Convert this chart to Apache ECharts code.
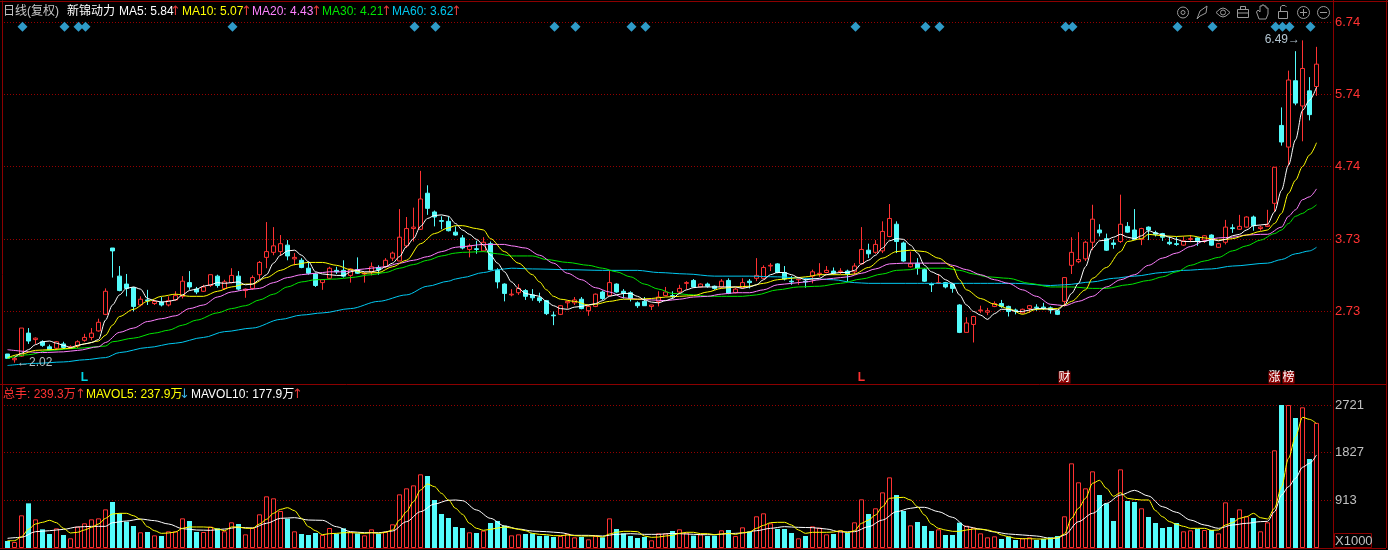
<!DOCTYPE html>
<html>
<head>
<meta charset="utf-8">
<style>html,body{margin:0;padding:0;background:#000}#c{width:1388px;height:550px}</style>
<script src="https://cdn.jsdelivr.net/npm/echarts@6/dist/echarts.min.js"></script>
</head>
<body>
<div id="c"></div>
<script>
// open, close, low, high for each trading day
const ohlc = [
[2.14,2.08,2.08,2.14],[2.06,2.08,2.02,2.09],[2.11,2.50,2.10,2.50],[2.43,2.32,2.28,2.50],[2.34,2.36,2.28,2.37],
[2.31,2.26,2.24,2.33],[2.24,2.20,2.19,2.27],[2.22,2.31,2.20,2.32],[2.28,2.23,2.21,2.31],[2.23,2.24,2.21,2.26],
[2.25,2.31,2.22,2.33],[2.33,2.37,2.31,2.42],[2.37,2.43,2.33,2.50],[2.46,2.58,2.45,2.63],[2.69,3.01,2.68,3.05],
[3.61,3.57,3.20,3.61],[3.22,3.02,3.01,3.36],[3.11,3.05,2.94,3.25],[3.06,2.80,2.73,3.07],[2.82,2.90,2.80,2.94],
[2.89,2.88,2.82,3.03],[2.84,2.87,2.82,2.89],[2.86,2.82,2.80,2.93],[2.82,2.88,2.80,2.94],[2.89,2.95,2.88,3.01],
[2.94,3.15,2.91,3.22],[3.13,3.07,3.03,3.29],[3.04,3.00,2.97,3.07],[3.01,3.07,3.00,3.10],[3.09,3.24,3.07,3.24],
[3.22,3.09,3.06,3.24],[3.05,3.14,3.03,3.17],[3.13,3.23,3.12,3.33],[3.22,3.04,3.02,3.29],[3.02,3.04,2.92,3.05],
[3.05,3.20,3.03,3.23],[3.24,3.41,3.18,3.43],[3.48,3.56,3.33,3.97],[3.55,3.64,3.51,3.90],[3.56,3.67,3.50,3.79],
[3.65,3.50,3.44,3.72],[3.46,3.48,3.37,3.54],[3.44,3.34,3.33,3.47],[3.33,3.26,3.24,3.42],[3.25,3.09,3.07,3.27],
[3.13,3.17,3.03,3.18],[3.19,3.33,3.18,3.35],[3.30,3.28,3.25,3.35],[3.30,3.22,3.20,3.44],[3.23,3.32,3.13,3.33],
[3.31,3.26,3.25,3.48],[3.25,3.26,3.13,3.28],[3.28,3.35,3.23,3.41],[3.34,3.31,3.24,3.37],[3.35,3.44,3.33,3.47],
[3.47,3.54,3.43,3.56],[3.43,3.76,3.43,4.15],[3.64,3.88,3.61,4.04],[3.88,3.90,3.70,4.17],[3.87,4.29,3.86,4.68],
[4.37,4.16,4.07,4.48],[4.11,4.04,3.91,4.13],[3.99,3.98,3.87,4.05],[3.98,3.85,3.84,4.05],[3.83,3.79,3.78,3.91],
[3.75,3.61,3.59,3.79],[3.59,3.64,3.48,3.67],[3.60,3.59,3.53,3.71],[3.57,3.69,3.56,3.76],[3.67,3.31,3.30,3.70],
[3.30,3.14,3.05,3.33],[3.11,2.98,2.87,3.12],[2.96,2.97,2.94,3.04],[2.99,3.05,2.96,3.11],[3.02,2.94,2.89,3.04],
[2.96,2.92,2.88,3.04],[2.92,2.88,2.85,2.99],[2.88,2.70,2.68,2.89],[2.68,2.67,2.54,2.73],[2.69,2.81,2.68,2.82],
[2.85,2.87,2.77,2.88],[2.85,2.89,2.82,2.93],[2.90,2.77,2.76,2.93],[2.74,2.80,2.67,2.82],[2.80,2.97,2.79,2.98],
[3.00,2.91,2.89,3.02],[2.95,3.13,2.94,3.30],[3.11,3.00,2.99,3.12],[3.01,2.98,2.91,3.04],[2.99,2.91,2.87,3.01],
[2.85,2.81,2.78,2.87],[2.87,2.81,2.81,2.93],[2.80,2.82,2.75,2.82],[2.87,2.93,2.80,3.01],[2.95,3.00,2.94,3.07],
[2.95,2.94,2.91,3.01],[3.00,3.05,2.98,3.10],[3.12,3.13,3.04,3.15],[3.16,3.07,3.06,3.18],[3.07,3.11,3.06,3.12],
[3.11,3.08,3.06,3.13],[3.08,3.05,3.03,3.09],[3.07,3.15,3.05,3.18],[3.16,2.98,2.97,3.19],[2.99,3.04,2.98,3.06],
[3.06,3.13,3.05,3.19],[3.15,3.13,3.05,3.18],[3.19,3.23,3.15,3.47],[3.19,3.34,3.18,3.37],[3.36,3.37,3.29,3.40],
[3.39,3.27,3.26,3.40],[3.27,3.18,3.16,3.36],[3.15,3.14,3.10,3.22],[3.17,3.18,3.10,3.21],[3.15,3.14,3.06,3.19],
[3.22,3.28,3.12,3.31],[3.25,3.26,3.21,3.40],[3.27,3.30,3.26,3.36],[3.29,3.26,3.24,3.34],[3.28,3.29,3.25,3.33],
[3.29,3.25,3.14,3.31],[3.28,3.36,3.24,3.40],[3.39,3.59,3.38,3.90],[3.58,3.53,3.47,3.67],[3.55,3.66,3.53,3.72],
[3.57,3.84,3.54,3.98],[3.77,4.02,3.76,4.22],[3.94,3.70,3.54,3.98],[3.68,3.43,3.42,3.70],[3.35,3.39,3.34,3.56],
[3.40,3.33,3.24,3.47],[3.31,3.15,3.14,3.33],[3.11,3.10,3.00,3.13],[3.12,3.13,3.11,3.25],[3.13,3.07,3.05,3.14],
[3.11,3.05,2.99,3.12],[2.82,2.44,2.43,2.83],[2.44,2.57,2.44,2.65],[2.55,2.66,2.30,2.67],[2.74,2.75,2.71,2.81],
[2.72,2.74,2.68,2.78],[2.80,2.84,2.79,2.87],[2.84,2.80,2.78,2.89],[2.80,2.73,2.66,2.81],[2.75,2.74,2.69,2.77],
[2.71,2.76,2.70,2.77],[2.77,2.81,2.71,2.82],[2.79,2.78,2.74,2.83],[2.79,2.77,2.75,2.85],[2.78,2.75,2.70,2.80],
[2.74,2.69,2.68,2.75],[2.87,3.20,2.80,3.20],[3.37,3.55,3.25,3.76],[3.42,3.45,3.40,3.83],[3.46,3.69,3.43,3.71],
[3.69,4.01,3.58,4.21],[3.86,3.82,3.77,3.94],[3.74,3.58,3.57,3.81],[3.68,3.66,3.60,3.73],[3.70,3.94,3.68,4.35],
[3.91,3.83,3.82,3.97],[3.86,3.73,3.72,4.15],[3.73,3.88,3.65,3.89],[3.90,3.86,3.72,3.91],[3.82,3.80,3.77,3.85],
[3.81,3.76,3.71,3.82],[3.69,3.67,3.65,3.77],[3.67,3.66,3.64,3.76],[3.65,3.71,3.64,3.77],[3.73,3.74,3.69,3.79],
[3.75,3.71,3.64,3.76],[3.72,3.78,3.68,3.79],[3.79,3.65,3.64,3.80],[3.62,3.67,3.61,3.68],[3.69,3.90,3.66,4.00],
[3.89,3.88,3.82,3.94],[3.87,3.91,3.86,4.07],[3.90,4.04,3.89,4.05],[4.04,3.92,3.85,4.06],[3.88,3.90,3.85,3.92],
[3.91,3.93,3.90,4.14],[4.23,4.73,4.11,4.73],[5.31,5.08,5.03,5.56],[5.01,5.94,4.76,6.07],[5.93,5.62,5.59,6.34],
[5.58,6.10,5.09,6.49],[5.79,5.46,5.38,5.98],[5.85,6.16,5.72,6.40]
];
// turnover, in thousands of lots
const volume = [
134,115,625,854,548,357,268,376,249,185,408,472,548,567,739,880,663,504,421,300,
306,242,229,319,319,567,516,306,306,408,376,319,491,459,261,389,644,988,950,708,
561,319,268,249,287,249,382,274,376,306,280,242,357,274,312,453,1026,1141,1198,1409,
1377,918,650,574,402,382,300,287,331,478,516,427,242,261,268,280,229,236,210,229,
274,204,210,166,229,204,567,363,280,229,191,210,147,280,280,325,357,293,236,261,
229,236,338,344,229,395,312,606,663,472,363,363,287,185,229,414,389,261,268,338,
293,491,931,650,759,1064,1351,1013,708,433,497,421,325,357,249,249,484,427,389,280,
204,223,172,217,153,185,204,153,172,204,229,606,1619,1256,1141,1466,1013,854,516,1504,
899,880,759,593,478,382,402,478,319,338,363,344,344,280,873,574,739,606,574,319,
491,1868,2734,2734,2486,2690,1702,2393
];
const ma5 = [
null,2.09,2.15,2.20,2.27,2.31,2.32,2.29,2.26,2.23,2.26,2.28,2.30,2.34,2.61,2.82,2.96,3.05,3.07,3.04,
2.91,2.88,2.86,2.87,2.89,2.96,3.02,3.04,3.08,3.10,3.13,3.12,3.13,3.14,3.10,3.11,3.17,3.24,3.40,3.51,
3.57,3.58,3.51,3.42,3.28,3.25,3.24,3.23,3.23,3.28,3.30,3.28,3.28,3.30,3.35,3.40,3.49,3.63,3.74,3.91,
4.02,4.06,4.07,4.05,3.95,3.86,3.80,3.73,3.65,3.51,3.40,3.28,3.14,3.05,2.98,2.96,2.94,2.87,2.81,2.77,
2.76,2.79,2.80,2.82,2.84,2.88,2.94,2.96,2.98,2.98,2.94,2.89,2.86,2.85,2.88,2.91,2.98,3.03,3.06,3.07,
3.07,3.07,3.07,3.07,3.07,3.05,3.07,3.10,3.17,3.24,3.27,3.27,3.24,3.20,3.17,3.18,3.19,3.24,3.26,3.27,
3.27,3.30,3.39,3.44,3.51,3.61,3.71,3.74,3.73,3.65,3.54,3.37,3.28,3.24,3.17,3.12,2.96,2.82,2.73,2.68,
2.62,2.70,2.76,2.76,2.73,2.73,2.75,2.77,2.77,2.76,2.75,2.82,2.98,3.12,3.35,3.61,3.71,3.72,3.76,3.80,
3.76,3.74,3.78,3.85,3.82,3.79,3.76,3.73,3.70,3.70,3.70,3.70,3.73,3.71,3.73,3.78,3.80,3.86,3.92,3.93,
3.94,4.11,4.41,4.76,5.11,5.52,5.66,5.84
];
const ma10 = [[0,2.09],[2,2.14],[4,2.19],[6,2.20],[9,2.22],[11,2.28],[13,2.32],[14,2.40],[15,2.54],[16,2.66],[18,2.76],[20,2.87],[22,2.94],[24,2.97],[26,2.94],[28,2.94],[30,3.01],[32,3.07],[34,3.11],[35,3.11],[37,3.20],[39,3.30],[41,3.38],[43,3.41],[45,3.41],[47,3.37],[49,3.31],[51,3.26],[53,3.27],[55,3.35],[57,3.44],[59,3.67],[61,3.81],[63,3.89],[64,3.92],
[65,3.92],[67,3.88],[68,3.86],[69,3.74],[71,3.56],[73,3.40],[75,3.24],[76,3.14],[77,3.03],[78,2.94],[79,2.90],[81,2.87],[83,2.82],[84,2.83],[86,2.87],[88,2.90],[90,2.90],[92,2.91],[94,2.93],[96,2.94],[98,2.95],[100,3.00],[102,3.05],[104,3.07],[106,3.08],[108,3.12],[110,3.17],[112,3.19],[114,3.21],[116,3.24],[118,3.24],[120,3.24],[121,3.25],[123,3.34],[125,3.47],[127,3.56],[129,3.58],[130,3.57],
[131,3.56],[133,3.47],[135,3.35],[136,3.17],[137,3.03],[139,2.91],[141,2.83],[143,2.77],[145,2.69],[147,2.76],[150,2.77],[151,2.82],[152,2.87],[154,3.03],[155,3.19],[157,3.34],[159,3.56],[160,3.70],[162,3.74],[163,3.80],[165,3.78],[167,3.77],[169,3.78],[171,3.75],[173,3.72],[175,3.74],[177,3.79],[179,3.84],[180,3.86],[181,3.95],[182,4.09],[183,4.37],[184,4.55],[185,4.74],[186,4.90],[187,5.07]];
const ma20 = [[0,2.20],[5,2.16],[8,2.17],[10,2.19],[13,2.24],[14,2.30],[16,2.44],[18,2.50],[20,2.59],[22,2.63],[24,2.67],[26,2.77],[28,2.82],[30,2.93],[32,3.00],[34,3.03],[36,3.05],[38,3.13],[40,3.20],[42,3.24],[44,3.26],[46,3.28],[48,3.28],[50,3.31],[52,3.33],[54,3.35],[56,3.40],[58,3.44],[60,3.49],[62,3.56],[64,3.62],
[65,3.63],[68,3.66],[71,3.66],[72,3.64],[74,3.61],[76,3.51],[78,3.40],[80,3.26],[82,3.17],[84,3.06],[86,3.00],[88,2.92],[90,2.90],[92,2.89],[94,2.88],[96,2.90],[98,2.93],[100,2.94],[102,2.97],[104,2.99],[106,2.99],[108,3.03],[110,3.10],[112,3.12],[114,3.14],[116,3.17],[118,3.19],[120,3.21],[122,3.26],[124,3.32],[126,3.39],[128,3.40],[130,3.40],
[131,3.40],[134,3.40],[135,3.37],[137,3.31],[139,3.24],[141,3.17],[143,3.12],[145,3.03],[147,2.94],[149,2.83],[151,2.81],[153,2.87],[155,2.94],[157,3.07],[159,3.17],[161,3.24],[163,3.37],[165,3.47],[167,3.54],[169,3.63],[171,3.71],[173,3.75],[175,3.76],[177,3.79],[179,3.80],[180,3.80],[182,3.90],[183,4.05],[184,4.14],[185,4.28],[186,4.32],[187,4.43]];
const ma30 = [[0,2.08],[3,2.13],[6,2.19],[10,2.22],[14,2.25],[15,2.31],[18,2.36],[21,2.43],[23,2.47],[25,2.54],[27,2.61],[30,2.71],[32,2.77],[34,2.81],[36,2.89],[38,2.97],[40,3.07],[42,3.14],[44,3.17],[47,3.18],[49,3.20],[52,3.24],[54,3.27],[56,3.33],[58,3.38],[60,3.44],[62,3.50],[64,3.54],
[65,3.55],[68,3.56],[70,3.53],[72,3.50],[75,3.50],[77,3.45],[80,3.41],[83,3.37],[85,3.33],[87,3.28],[89,3.21],[91,3.11],[93,3.04],[95,2.98],[98,2.96],[100,2.94],[102,2.94],[105,2.94],[107,2.96],[110,3.03],[113,3.07],[116,3.08],[119,3.12],[122,3.18],[125,3.25],[127,3.30],[129,3.31],[130,3.33],
[131,3.33],[134,3.33],[136,3.30],[138,3.25],[140,3.21],[143,3.19],[146,3.12],[149,3.07],[152,3.07],[155,3.05],[157,3.05],[160,3.10],[163,3.16],[165,3.21],[167,3.28],[169,3.37],[171,3.43],[173,3.48],[175,3.57],[177,3.64],[179,3.72],[181,3.81],[182,3.86],[183,3.95],[184,4.05],[185,4.09],[186,4.15],[187,4.21]];
const ma60 = [[0,1.98],[4,2.01],[8,2.03],[11,2.06],[14,2.09],[16,2.16],[20,2.23],[24,2.29],[28,2.37],[31,2.45],[35,2.50],[39,2.62],[42,2.68],[45,2.71],[49,2.77],[53,2.87],[57,2.96],[60,3.08],[63,3.15],[64,3.18],
[65,3.20],[68,3.27],[70,3.31],[72,3.33],[75,3.32],[80,3.31],[85,3.30],[90,3.30],[93,3.27],[97,3.25],[101,3.22],[106,3.22],[110,3.21],[114,3.19],[118,3.17],[121,3.13],[123,3.12],[130,3.12],
[131,3.12],[136,3.12],[140,3.12],[144,3.12],[149,3.09],[151,3.10],[155,3.14],[158,3.19],[161,3.22],[165,3.27],[168,3.30],[172,3.32],[175,3.36],[180,3.40],[182,3.45],[184,3.53],[186,3.57],[187,3.62]];
const mavol5 = [
140,140,217,357,459,491,529,484,376,287,300,344,395,459,567,650,663,663,618,548,
408,331,280,287,306,376,402,402,402,395,363,331,402,402,376,376,459,548,663,739,
771,714,567,408,331,255,274,280,293,293,287,280,293,280,300,344,535,695,886,1109,
1224,1173,1045,918,759,644,472,376,338,357,382,402,382,357,331,280,261,255,236,236,
249,236,229,229,229,210,268,300,319,319,312,229,204,210,229,242,280,300,300,274,
274,255,268,280,261,293,306,376,433,484,491,491,440,344,280,300,300,300,306,331,
293,331,472,535,631,790,950,962,969,918,790,631,459,376,344,319,319,344,363,357,
344,312,249,217,185,178,178,172,172,178,198,268,567,759,950,1237,1294,1141,988,1058,
950,931,918,918,714,599,504,453,414,376,376,376,338,344,440,484,567,599,663,580,
554,759,1173,1715,2129,2499,2460,2379
];
const mavol10 = [[0,185],[2,204],[4,312],[6,331],[8,357],[10,402],[12,414],[14,414],[15,484],[17,516],[19,554],[21,523],[23,459],[25,370],[27,344],[29,338],[31,363],[33,395],[35,382],[37,472],[39,567],[41,580],[43,535],[45,529],[47,408],[49,312],[51,293],[53,293],[55,325],[57,504],[59,695],[61,841],[63,912],[64,918],
[65,905],[67,727],[69,567],[71,421],[73,363],[75,325],[77,312],[79,293],[81,242],[83,242],[85,229],[87,261],[89,274],[91,261],[93,261],[95,280],[97,268],[99,255],[101,255],[103,274],[105,287],[107,331],[109,376],[111,408],[113,395],[115,389],[117,363],[119,306],[121,312],[123,408],[125,535],[127,695],[129,759],[130,778],
[131,778],[133,695],[135,586],[137,408],[139,363],[141,306],[143,268],[145,249],[147,229],[149,185],[150,191],[151,249],[153,504],[155,663],[157,854],[159,1013],[161,1103],[163,994],[165,790],[167,682],[169,535],[171,440],[173,376],[175,440],[177,472],[179,504],[180,510],[181,695],[182,1013],[183,1173],[184,1332],[185,1543],[186,1619],[187,1779]];
const signalDays = [2,8,10,11,32,58,61,78,81,89,91,121,131,133,151,152,167,172,181,182,183,186];
const signalLevel = 6.68;
const markerLevel = 1.815;
const priceTicks = [2.73,3.73,4.74,5.74,6.74];
const volumeTicks = [913,1827,2721];
const categories = Array.from({length: 190}, (_, i) => String(i + 1));

const CJK = '"Liberation Sans","Noto Sans CJK SC",sans-serif';
const LAT = '"Liberation Sans",Arial,sans-serif';
const FRAME = '#8b0000', GRIDC = '#960000', UP = '#ff3232', DOWN = '#54fcfc';

function txt(x, y, text, fill, font) {
  return {type:'text', x, y, silent:true, z:50,
    style:{text, fill, font: font || ('12px ' + LAT), verticalAlign:'middle', align:'left'}};
}
function cjk(x, y, text, fill) { return txt(x, y, text, fill, '12px ' + CJK); }
function arrow(x, y, text, fill) { return txt(x, y, text, fill, '13px "DejaVu Sans"'); }
function stroke(extra) { return Object.assign({silent:true, z:50, style:{stroke:'#9a9a9a', fill:'none', lineWidth:1}}, extra); }
function frame(x1,y1,x2,y2){ return {type:'line', silent:true, z:40, shape:{x1,y1,x2,y2}, style:{stroke:FRAME, lineWidth:1}}; }

const icons = [
  stroke({type:'circle', shape:{cx:1183, cy:12.5, r:5.5}}),
  stroke({type:'circle', shape:{cx:1183, cy:12.5, r:2}}),
  stroke({type:'polyline', shape:{points:[[1197,19],[1200,11],[1207,6],[1206,13],[1200,16],[1197,19]]}}),
  stroke({type:'polyline', shape:{points:[[1216,12.5],[1220,9],[1223,8],[1226,9],[1230,12.5],[1226,16],[1223,17],[1220,16],[1216,12.5]]}}),
  stroke({type:'circle', shape:{cx:1223, cy:12.5, r:2.5}}),
  stroke({type:'rect', shape:{x:1237.5, y:9.5, width:11, height:8}}),
  stroke({type:'rect', shape:{x:1240.5, y:6.5, width:5, height:3}}),
  stroke({type:'line', shape:{x1:1237.5, y1:13, x2:1248.5, y2:13}}),
  stroke({type:'polyline', shape:{points:[[1259,19],[1256.5,12],[1258,10],[1260,12],[1260,6],[1262,6],[1262,5],[1264,5],[1264,6],[1266,6],[1266,8],[1268,8],[1268,14],[1266,19],[1259,19]]}}),
  stroke({type:'rect', shape:{x:1278.5, y:11.5, width:9, height:7}}),
  stroke({type:'polyline', shape:{points:[[1280.5,11],[1280.5,7],[1282,5.5],[1285,5.5],[1286.5,7]]}}),
  stroke({type:'circle', shape:{cx:1303.5, cy:12.5, r:6}}),
  stroke({type:'line', shape:{x1:1300, y1:12.5, x2:1307, y2:12.5}}),
  stroke({type:'line', shape:{x1:1303.5, y1:9, x2:1303.5, y2:16}}),
  stroke({type:'circle', shape:{cx:1323.5, cy:12.5, r:6}}),
  stroke({type:'line', shape:{x1:1320, y1:12.5, x2:1327, y2:12.5}})
];

const UPA = '#e23a3a';
const headers = [
  cjk(3, 12, '日线(复权)', '#c8c8c8'),
  cjk(67, 12, '新锦动力', '#ffffff'),
  txt(119, 12, 'MA5: 5.84', '#ffffff'), arrow(170, 12, '↑', UPA),
  txt(182, 12, 'MA10: 5.07', '#ffff00'), arrow(241, 12, '↑', UPA),
  txt(252, 12, 'MA20: 4.43', '#ff80ff'), arrow(311, 12, '↑', UPA),
  txt(322, 12, 'MA30: 4.21', '#00e600'), arrow(381, 12, '↑', UPA),
  txt(392, 12, 'MA60: 3.62', '#00c8f0'), arrow(451, 12, '↑', UPA),
  cjk(3, 395, '总手: 239.3万', '#ff3232'), arrow(75, 395, '↑', UPA),
  cjk(86, 395, 'MAVOL5: 237.9万', '#ffff00'), arrow(179, 395, '↓', '#3ab0e0'),
  cjk(191, 395, 'MAVOL10: 177.9万', '#ffffff'), arrow(292, 395, '↑', UPA),
  txt(1335, 541, 'X1000', '#c0c0c0', '13px ' + LAT),
  {type:'rect', silent:true, z:45, shape:{x:1334.5, y:533.5, width:37, height:14}, style:{stroke:FRAME, fill:'none', lineWidth:1}}
];
const frames = [
  frame(2.5,0.5,2.5,548.5), frame(0,1.5,1388,1.5), frame(0,384.5,1386,384.5),
  frame(0,548.5,1386,548.5), frame(1333.5,0,1333.5,548), frame(1386.5,0,1386.5,548)
];

const lineOf = (name, data, color, x, y) => ({
  name, type:'line', data, xAxisIndex:x||0, yAxisIndex:y||0, showSymbol:false, symbol:'none',
  connectNulls:true, smooth:0.3, smoothMonotone:'x', silent:true, lineStyle:{color, width:1}, itemStyle:{color}, z:5
});
const noteLabel = (formatter, color, position) => ({show:true, formatter, color, position, fontSize:12, fontFamily:LAT, distance:2});
const boxedLabel = (formatter) => Object.assign(noteLabel(formatter,'#fff','inside'), {backgroundColor:'#8b0000', fontFamily:CJK});
const hidden = {color:'rgba(0,0,0,0)', opacity:1};

const option = {
  animation:false, backgroundColor:'#000',
  grid:[
    {left:4, top:1.5, width:1330, height:382.5},
    {left:4, top:384, width:1330, height:164}
  ],
  xAxis:[
    {type:'category', gridIndex:0, data:categories, boundaryGap:true, axisLine:{show:false}, axisTick:{show:false}, axisLabel:{show:false}, splitLine:{show:false}},
    {type:'category', gridIndex:1, data:categories, boundaryGap:true, axisLine:{show:false}, axisTick:{show:false}, axisLabel:{show:false}, splitLine:{show:false}}
  ],
  yAxis:[
    {type:'value', gridIndex:0, position:'right', min:1.724, max:7.029, scale:true,
      axisLine:{show:false}, axisTick:{show:false, customValues:priceTicks},
      axisLabel:{customValues:priceTicks, color:'#ff3232', fontSize:13, fontFamily:LAT, margin:1, formatter:v=>Number(v).toFixed(2)},
      splitLine:{show:true, lineStyle:{color:GRIDC, type:[1,2], width:1}}},
    {type:'value', gridIndex:1, position:'right', min:0, max:3136,
      axisLine:{show:false}, axisTick:{show:false, customValues:volumeTicks},
      axisLabel:{customValues:volumeTicks, color:'#c0c0c0', fontSize:13, fontFamily:LAT, margin:1, formatter:v=>String(Math.round(v))},
      splitLine:{show:true, lineStyle:{color:GRIDC, type:[1,2], width:1}}}
  ],
  series:[
    {name:'K', type:'candlestick', data:ohlc, barWidth:5, silent:true, z:3,
      itemStyle:{color:'#000', color0:DOWN, borderColor:UP, borderColor0:DOWN, borderWidth:1}},
    lineOf('MA60', ma60, '#00c8f0'),
    lineOf('MA30', ma30, '#00e600'),
    lineOf('MA20', ma20, '#ff80ff'),
    lineOf('MA10', ma10, '#ffff00'),
    lineOf('MA5', ma5, '#ffffff'),
    {name:'signals', type:'scatter', data:signalDays.map(d=>[d,signalLevel]), symbol:'diamond', symbolSize:[10,10],
      symbolOffset:[1,0], silent:true, itemStyle:{color:'#2f9bc8', opacity:1}, z:6},
    {name:'high', type:'scatter', symbolSize:1, silent:true, z:7, data:[[185,6.49]], itemStyle:hidden,
      label:Object.assign(noteLabel('6.49→','#b4c6d2','left'),{offset:[0,-1]})},
    {name:'low', type:'scatter', symbolSize:1, silent:true, z:7, data:[[1,2.02]], itemStyle:hidden,
      label:noteLabel('←2.02','#b4bec2','right')},
    {name:'markers', type:'scatter', symbolSize:1, silent:true, z:7, itemStyle:hidden,
      data:[
        {value:[11,markerLevel], label:Object.assign(noteLabel('L','#00d8e8','inside'),{fontWeight:'bold'})},
        {value:[122,markerLevel], label:Object.assign(noteLabel('L','#ff3232','inside'),{fontWeight:'bold'})},
        {value:[151,markerLevel], label:boxedLabel('财')},
        {value:[181,markerLevel], label:boxedLabel('涨')},
        {value:[183,markerLevel], label:boxedLabel('榜')}
      ]},
    {name:'VOL', type:'bar', xAxisIndex:1, yAxisIndex:1, barWidth:5, silent:true, z:3,
      data:volume.map((v,i)=>{
        const up = ohlc[i][1] >= ohlc[i][0];
        return {value:v, itemStyle: up ? {color:'#000', borderColor:UP, borderWidth:1} : {color:DOWN, borderWidth:0}};
      })},
    lineOf('MAVOL10', mavol10, '#ffffff', 1, 1),
    lineOf('MAVOL5', mavol5, '#ffff00', 1, 1)
  ],
  graphic:{elements:[...frames, ...headers, ...icons]}
};
const chart = echarts.init(document.getElementById('c'), null, {renderer:'canvas'});
chart.setOption(option);
</script>
</body>
</html>
